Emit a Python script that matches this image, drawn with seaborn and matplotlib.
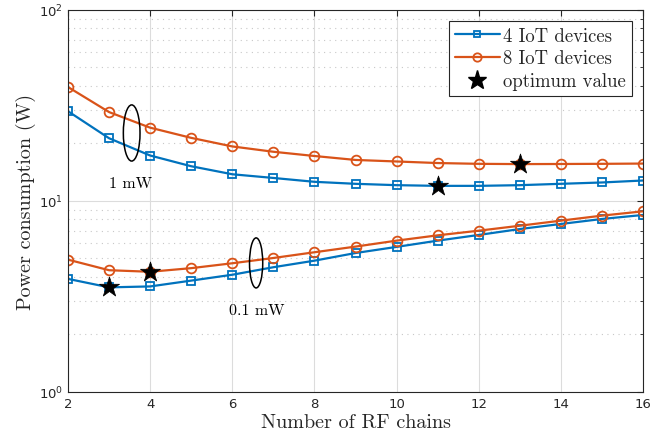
import numpy as np
import pandas as pd
import seaborn as sns
import matplotlib
matplotlib.use("Agg")
import matplotlib.pyplot as plt
from matplotlib.patches import Ellipse
from matplotlib.lines import Line2D

# ---- data ----
rf_chains = [2, 3, 4, 5, 6, 7, 8, 9, 10, 11, 12, 13, 14, 15, 16]
p4_1mw = [29.5, 21.3, 17.3, 15.2, 13.8, 13.2, 12.6, 12.3, 12.1, 12.0, 12.0, 12.1, 12.3, 12.5, 12.8]
p8_1mw = [39.5, 29.2, 24.2, 21.4, 19.3, 18.1, 17.2, 16.4, 16.1, 15.8, 15.65, 15.6, 15.62, 15.65, 15.7]
p4_01mw = [3.91, 3.53, 3.57, 3.83, 4.11, 4.50, 4.87, 5.34, 5.75, 6.20, 6.64, 7.13, 7.58, 8.05, 8.45]
p8_01mw = [4.93, 4.34, 4.26, 4.45, 4.72, 5.03, 5.39, 5.77, 6.20, 6.61, 6.99, 7.42, 7.89, 8.38, 8.83]
opt_x = [11, 13, 3, 4]
opt_y = [12.0, 15.6, 3.53, 4.26]
x_ticks = [2, 4, 6, 8, 10, 12, 14, 16]
series_labels = ["4 IoT devices", "8 IoT devices", "optimum value"]
annot_text = ["1 mW", "0.1 mW"]
annot_text_pos = [(3.53, 12.4), (6.59, 2.69)]
ellipse_center = [(3.55, 22.7), (6.58, 4.74)]
ellipse_size = [(0.029, 0.147), (0.023, 0.131)]  # axes fractions

BLUE = "#0072BD"
ORANGE = "#D95319"

sns.set_style("white")
plt.rcParams["font.family"] = ["DejaVu Sans"]
plt.rcParams["axes.formatter.use_mathtext"] = True

fig = plt.figure(figsize=(6.61, 4.39), dpi=100)
ax = fig.add_axes([0.1029, 0.1048, 0.8699, 0.8702])

df = pd.DataFrame({
    "x": rf_chains * 4,
    "y": p4_1mw + p8_1mw + p4_01mw + p8_01mw,
    "grp": ["a"] * 15 + ["b"] * 15 + ["c"] * 15 + ["d"] * 15,
})

for grp, col, mk, ms in [("a", BLUE, "s", 5.5), ("b", ORANGE, "o", 7),
                         ("c", BLUE, "s", 5.5), ("d", ORANGE, "o", 7)]:
    sub = df[df["grp"] == grp]
    sns.lineplot(data=sub, x="x", y="y", ax=ax, color=col, marker=mk,
                 markersize=ms, markerfacecolor="none", markeredgecolor=col,
                 markeredgewidth=1.3, linewidth=1.6, legend=False)

sns.scatterplot(x=opt_x, y=opt_y, ax=ax, marker="*", s=230, color="black",
                edgecolor="black", linewidth=0.5, zorder=5, legend=False)

ax.set_yscale("log")
ax.set_xlim(2, 16)
ax.set_ylim(1, 100)
ax.set_xticks(x_ticks)
ax.set_xticklabels([str(t) for t in x_ticks])

ax.grid(True, which="major", color="#dcdcdc", linewidth=0.8, linestyle="-")
ax.grid(True, which="minor", axis="y", color="#c8c8c8", linewidth=0.8, linestyle=(0, (1, 4)))
ax.set_axisbelow(True)
ax.tick_params(which="both", direction="in", top=True, right=True,
               colors="#262626", labelsize=9.5)
ax.tick_params(which="major", length=4)
ax.tick_params(which="minor", length=2.5)
for s in ax.spines.values():
    s.set_color("#262626")
    s.set_linewidth(0.8)

serif = {"family": "cmr10"}
ax.set_xlabel("Number of RF chains", fontdict=serif, fontsize=14.5, color="#262626", labelpad=2)
ax.set_ylabel("Power consumption (W)", fontdict=serif, fontsize=14.5, color="#262626", labelpad=2)

# annotations
to_axes = ax.transData + ax.transAxes.inverted()
for (cx, cy), (w, h) in zip(ellipse_center, ellipse_size):
    fx, fy = to_axes.transform((cx, cy))
    ax.add_patch(Ellipse((fx, fy), width=w, height=h, transform=ax.transAxes,
                         fill=False, edgecolor="black", linewidth=1.1, zorder=6))
for txt, (tx, ty) in zip(annot_text, annot_text_pos):
    ax.text(tx, ty, txt, fontdict=serif, fontsize=11.5, ha="center", va="center", color="black")

# legend
handles = [
    Line2D([], [], color=BLUE, marker="s", markersize=5, markerfacecolor="none", markeredgewidth=1.3, linewidth=1.6),
    Line2D([], [], color=ORANGE, marker="o", markersize=6, markerfacecolor="none", markeredgewidth=1.3, linewidth=1.6),
    Line2D([], [], color="black", marker="*", markersize=14, linestyle="none"),
]
leg = ax.legend(handles, series_labels, loc="upper right", prop={"family": "cmr10", "size": 13.5},
                frameon=True, fancybox=False, edgecolor="#262626", framealpha=1,
                borderaxespad=0.6, handlelength=2.4, handletextpad=0.2, labelspacing=0.25,
                borderpad=0.3)
leg.get_frame().set_linewidth(0.8)

fig.savefig("out.png", dpi=100)
